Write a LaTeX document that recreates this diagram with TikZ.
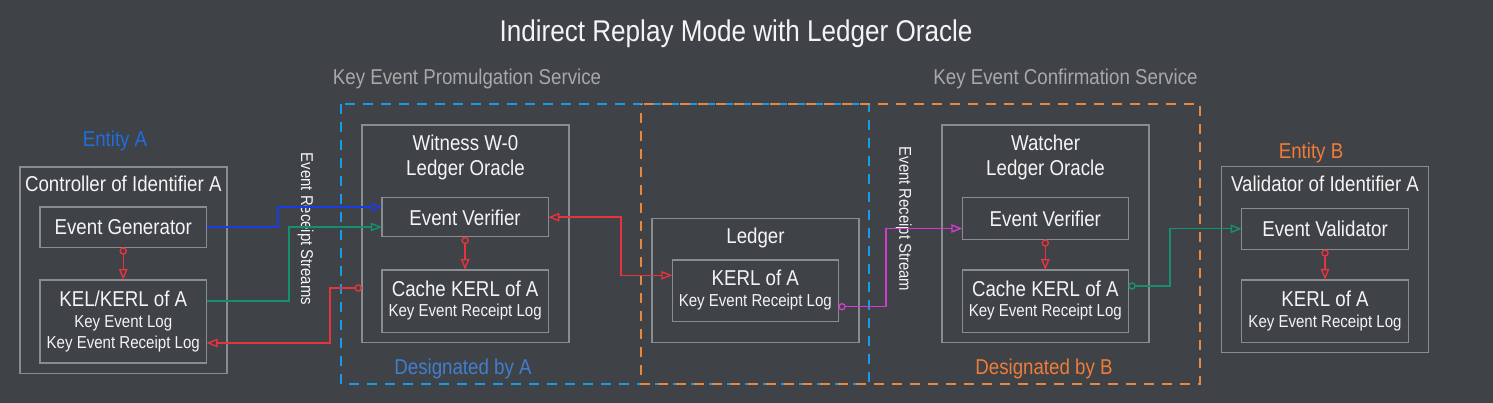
\documentclass[tikz,border=0pt]{standalone}
\usepackage{fontspec}
\setmainfont{Liberation Sans}[FakeStretch=0.87]
\usetikzlibrary{arrows.meta}
\definecolor{bg}{RGB}{63,66,70}
\definecolor{boxc}{RGB}{138,141,144}
\definecolor{txt}{RGB}{244,244,244}
\definecolor{svc}{RGB}{168,168,168}
\definecolor{bdash}{RGB}{26,154,230}
\definecolor{odash}{RGB}{232,135,62}
\definecolor{entA}{RGB}{30,110,222}
\definecolor{desA}{RGB}{63,127,207}
\definecolor{entB}{RGB}{240,124,56}
\definecolor{redl}{RGB}{230,52,62}
\definecolor{bluel}{RGB}{26,60,230}
\definecolor{greenl}{RGB}{20,144,110}
\definecolor{magl}{RGB}{208,60,208}
\tikzset{
  box/.style={draw=boxc, line width=1.5pt, inner sep=0pt, outer sep=0pt},
  big/.style={font=\fontsize{21.5}{25}\selectfont, text=txt, inner sep=0pt, anchor=base},
  small/.style={font=\fontsize{17.3}{20}\selectfont, text=txt, inner sep=0pt, anchor=base},
  conn/.style={line width=1.4pt},
  cstart/.style={{Circle[open,length=7.5pt,width=7.5pt]}-{Triangle[open,length=11pt,width=8.5pt]}},
  tend/.style={-{Triangle[open,length=11pt,width=8.5pt]}},
  tboth/.style={{Triangle[open,length=11pt,width=8.5pt]}-{Triangle[open,length=11pt,width=8.5pt]}},
  region/.style={line width=1.6pt, dash pattern=on 10pt off 8pt}
}
\begin{document}
\begin{tikzpicture}[x=1pt,y=-1pt]
\fill[bg] (0,0) rectangle (1493,403);
\useasboundingbox (0,0) rectangle (1493,403);

% title and service labels
\node[font=\fontsize{30}{34}\selectfont, text=txt, inner sep=0pt, anchor=base] (title) at (736,41.7) {Indirect Replay Mode with Ledger Oracle};
\node[big, text=svc] (kep) at (467,85) {Key Event Promulgation Service};
\node[big, text=svc] (kec) at (1065.5,85) {Key Event Confirmation Service};

% service regions
\draw[region, draw=bdash] (341,104) rectangle (869,384);
\draw[region, draw=odash, dash phase=9pt] (641,104) rectangle (1200,384);

% Entity A
\node[big, text=entA] (enta) at (115,147) {Entity A};
\node[box, minimum width=207, minimum height=206.5] (ctrl) at (123.5,270.25) {};
\node[big] (ctrlt) at (123.3,192) {Controller of Identifier A};
\node[box, minimum width=166.5, minimum height=40.3] (gen) at (123.25,227.15) {};
\node[big] (gent) at (123.25,235) {Event Generator};
\node[box, minimum width=166.5, minimum height=83] (kel) at (123.25,321.5) {};
\node[big] (kelt1) at (123.25,306) {KEL/KERL of A};
\node[small] (kelt2) at (123.25,327.5) {Key Event Log};
\node[small] (kelt3) at (123.25,348.5) {Key Event Receipt Log};

% Witness
\node[box, minimum width=207, minimum height=217.7] (wit) at (465.5,233.85) {};
\node[big] (witt1) at (465.5,151) {Witness W-0};
\node[big] (witt2) at (465.5,176) {Ledger Oracle};
\node[box, minimum width=166.3, minimum height=39] (ev) at (465.1,217.2) {};
\node[big] (evt) at (465.1,226) {Event Verifier};
\node[box, minimum width=166.3, minimum height=62.3] (cache) at (465.1,301.15) {};
\node[big] (cachet1) at (465.1,296) {Cache KERL of A};
\node[small] (cachet2) at (465.1,316) {Key Event Receipt Log};
\node[big, text=desA] (desa) at (463,374) {Designated by A};

% Ledger
\node[box, minimum width=207, minimum height=124.4] (led) at (755.5,280.5) {};
\node[big] (ledt) at (755.5,243.5) {Ledger};
\node[box, minimum width=166, minimum height=61.7] (kerl) at (755.3,290.85) {};
\node[big] (kerlt1) at (755.3,285) {KERL of A};
\node[small] (kerlt2) at (755.3,306.5) {Key Event Receipt Log};

% Watcher
\node[box, minimum width=207, minimum height=217.7] (wat) at (1045.5,233.85) {};
\node[big] (watt1) at (1045.5,151) {Watcher};
\node[big] (watt2) at (1045.5,176) {Ledger Oracle};
\node[box, minimum width=166, minimum height=41.6] (wev) at (1045.3,218.5) {};
\node[big] (wevt) at (1045.3,226.7) {Event Verifier};
\node[box, minimum width=166, minimum height=62.3] (wcache) at (1045.3,301.15) {};
\node[big] (wcachet1) at (1045.3,296) {Cache KERL of A};
\node[small] (wcachet2) at (1045.3,316) {Key Event Receipt Log};
\node[big, text=entB] (desb) at (1044,374) {Designated by B};

% Entity B
\node[big, text=entB] (entb) at (1311,158.3) {Entity B};
\node[box, minimum width=206.6, minimum height=186] (vld) at (1325,259.7) {};
\node[big] (vldt) at (1325,191.7) {Validator of Identifier A};
\node[box, minimum width=166.6, minimum height=41] (val) at (1325,228.8) {};
\node[big] (valt) at (1325,236.7) {Event Validator};
\node[box, minimum width=166.6, minimum height=62.3] (vkerl) at (1325,311.15) {};
\node[big] (vkerlt1) at (1325,306) {KERL of A};
\node[small] (vkerlt2) at (1325,327.5) {Key Event Receipt Log};

% rotated labels
\node[font=\fontsize{17.1}{20}\selectfont, text=txt, inner sep=0pt, rotate=-90] (ers1) at (305.5,229) {Event Receipt Streams};
\node[font=\fontsize{17.1}{20}\selectfont, text=txt, inner sep=0pt, rotate=-90] (ers2) at (903.8,219) {Event Receipt Stream};

% vertical red connectors
\draw[conn, redl, cstart] (gen.south) -- (kel.north);
\draw[conn, redl, cstart] (ev.south) -- (cache.north);
\draw[conn, redl, cstart] (wev.south) -- (wcache.north);
\draw[conn, redl, cstart] (val.south) -- (vkerl.north);

% streams
\draw[conn, bluel, tend] (gen.east) -| (278,207) -- (ev.west |- 0,207);
\draw[conn, greenl, tend] (kel.east |- 0,301) -| (289,227) -- (ev.west |- 0,227);
\draw[conn, redl, cstart] (wit.west |- 0,288) -| (330,343) -- (kel.east |- 0,343);
\draw[conn, redl, tboth] (ev.east) -| (621,275.3) -- (kerl.west |- 0,275.3);
\draw[conn, magl, cstart] (kerl.east |- 0,306.7) -| (886,228.5) -- (wev.west |- 0,228.5);
\draw[conn, greenl, cstart] (wcache.east |- 0,286) -| (1170,228.8) -- (val.west);
\end{tikzpicture}
\end{document}
